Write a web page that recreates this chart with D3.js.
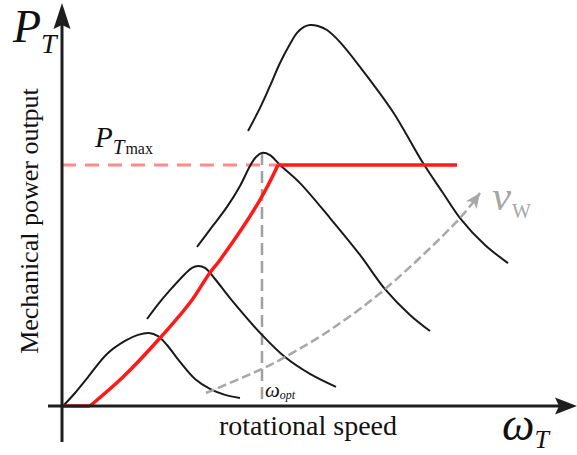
<!DOCTYPE html>
<html>
<head>
<meta charset="utf-8">
<script src="https://cdn.jsdelivr.net/npm/d3@7"></script>
<style>
  html, body { margin: 0; padding: 0; background: #fff; }
  svg { display: block; }
  text { font-family: "Liberation Serif", "Times New Roman", serif; }
</style>
</head>
<body>
<svg id="chart" width="577" height="455"></svg>
<script>
// Turbine power curves P_T(ω_T) for increasing wind speeds (per-unit values).
const curve1W = [0.01, 0.065, 0.13, 0.225, 0.315, 0.38, 0.435, 0.48, 0.525, 0.59, 0.665, 0.74, 0.815, 0.89];
const curve1P = [0.004, 0.054, 0.12, 0.216, 0.27, 0.295, 0.303, 0.29, 0.253, 0.183, 0.112, 0.071, 0.046, 0.033];

const curve2W = [0.425, 0.49, 0.55, 0.615, 0.65, 0.68, 0.715, 0.765, 0.84, 1.0, 1.115, 1.24, 1.37];
const curve2P = [0.361, 0.432, 0.49, 0.548, 0.573, 0.581, 0.573, 0.527, 0.448, 0.295, 0.203, 0.133, 0.079];

const curve3W = [0.675, 0.75, 0.825, 0.89, 0.94, 0.97, 1.0, 1.04, 1.09, 1.19, 1.34, 1.49, 1.615, 1.74, 1.84];
const curve3P = [0.66, 0.743, 0.826, 0.913, 0.996, 1.033, 1.05, 1.041, 1.0, 0.925, 0.78, 0.627, 0.485, 0.378, 0.311];

const curve4W = [0.93, 0.99, 1.04, 1.09, 1.14, 1.175, 1.21, 1.24, 1.28, 1.325, 1.39, 1.49, 1.655, 1.805, 1.905, 1.99, 2.115, 2.23];
const curve4P = [1.141, 1.237, 1.328, 1.423, 1.502, 1.548, 1.573, 1.581, 1.577, 1.56, 1.51, 1.407, 1.22, 1.008, 0.884, 0.78, 0.668, 0.593];

// Optimal operating trajectory (red): idle segment, rising part, rated power.
const idleW = [0.0, 0.14];
const mpptW = [0.14, 0.305, 0.49, 0.65, 0.735, 0.79, 0.99, 1.08];
const mpptP = [0.0, 0.12, 0.282, 0.44, 0.548, 0.606, 0.855, 1.0];
const ratedW = [1.08, 1.975];
const pMax = 1.0;

// Increasing wind speed direction (grey arrow).
const windW = [0.72, 1.0, 1.115, 1.34, 1.615, 1.99, 2.09];
const windP = [0.054, 0.154, 0.203, 0.315, 0.485, 0.78, 0.884];

const wOpt = 1.0;
const wOptPeak = 1.05;

const svg = d3.select("#chart");

const x = d3.scaleLinear().domain([0, 2.575]).range([62, 577]);
const y = d3.scaleLinear().domain([0, 1]).range([406, 165]);

const zip = (ws, ps) => ws.map((w, i) => [w, ps[i]]);
const smooth = d3.line().x(d => x(d[0])).y(d => y(d[1])).curve(d3.curveCatmullRom.alpha(0.5));
const straight = d3.line().x(d => x(d[0])).y(d => y(d[1]));

const defs = svg.append("defs");
defs.append("marker")
  .attr("id", "greyHead")
  .attr("markerUnits", "userSpaceOnUse")
  .attr("viewBox", "-16 -8 18 16")
  .attr("refX", 0).attr("refY", 0)
  .attr("markerWidth", 18).attr("markerHeight", 16)
  .attr("orient", "auto")
  .append("path")
  .attr("d", "M0,0 L-15,-6.5 L-11,0 L-15,6.5 Z")
  .attr("fill", "#a8a8a8");

// Rated power reference line
svg.append("path")
  .attr("d", straight([[0, pMax], [ratedW[0], pMax]]))
  .attr("fill", "none")
  .attr("stroke", "#ff8a8a")
  .attr("stroke-width", 3)
  .attr("stroke-dasharray", "14,9");

// Optimal speed marker
svg.append("path")
  .attr("d", straight([[wOpt, wOptPeak], [wOpt, 0]]))
  .attr("fill", "none")
  .attr("stroke", "#a0a0a0")
  .attr("stroke-width", 2.5)
  .attr("stroke-dasharray", "12,6");

// Power curves
[[curve1W, curve1P], [curve2W, curve2P], [curve3W, curve3P], [curve4W, curve4P]]
  .forEach(([ws, ps]) => {
    svg.append("path")
      .attr("d", smooth(zip(ws, ps)))
      .attr("fill", "none")
      .attr("stroke", "#1a1a1a")
      .attr("stroke-width", 2);
  });

// Wind speed arrow
svg.append("path")
  .attr("d", smooth(zip(windW, windP)))
  .attr("fill", "none")
  .attr("stroke", "#a8a8a8")
  .attr("stroke-width", 2.5)
  .attr("stroke-dasharray", "9,4")
  .attr("marker-end", "url(#greyHead)");

// Operating trajectory
const red = "#ff1a1a";
svg.append("path")
  .attr("d", straight(idleW.map(w => [w, 0])))
  .attr("fill", "none").attr("stroke", red).attr("stroke-width", 3.5);
svg.append("path")
  .attr("d", smooth(zip(mpptW, mpptP)))
  .attr("fill", "none").attr("stroke", red).attr("stroke-width", 3.5);
svg.append("path")
  .attr("d", straight(ratedW.map(w => [w, pMax])))
  .attr("fill", "none").attr("stroke", red).attr("stroke-width", 3.5);

// Axes with arrowheads
const axisColor = "#1e1e1e";
const x0 = x(0), y0 = y(0);
svg.append("line")
  .attr("x1", 48).attr("y1", y0).attr("x2", 566).attr("y2", y0)
  .attr("stroke", axisColor).attr("stroke-width", 3);
svg.append("line")
  .attr("x1", x0).attr("y1", 442).attr("x2", x0).attr("y2", 16)
  .attr("stroke", axisColor).attr("stroke-width", 3);
svg.append("path")
  .attr("d", "M0,0 L-22,-8.5 L-18,0 L-22,8.5 Z")
  .attr("transform", `translate(577,${y0})`)
  .attr("fill", axisColor);
svg.append("path")
  .attr("d", "M0,0 L-26,-8.5 L-22,0 L-26,8.5 Z")
  .attr("transform", `translate(${x0},3) rotate(-90)`)
  .attr("fill", axisColor);

// Labels
const ink = "#111";
const pt = svg.append("text").attr("x", 13).attr("y", 42).attr("fill", ink);
pt.append("tspan").attr("font-style", "italic").attr("font-size", 46).text("P");
pt.append("tspan").attr("font-style", "italic").attr("font-size", 28).attr("dx", 0).attr("dy", 11).text("T");

const ptm = svg.append("text").attr("x", 95).attr("y", 147).attr("fill", ink);
ptm.append("tspan").attr("font-style", "italic").attr("font-size", 29).text("P");
ptm.append("tspan").attr("font-style", "italic").attr("font-size", 21).attr("dx", 0).attr("dy", 7).text("T");
ptm.append("tspan").attr("font-size", 16).attr("dx", 1).text("max");

const vw = svg.append("text").attr("x", 492).attr("y", 210).attr("fill", "#a6a6a6");
vw.append("tspan").attr("font-style", "italic").attr("font-size", 43).text("v");
vw.append("tspan").attr("font-size", 20).attr("dx", 1).attr("dy", 8).text("W");

const wt = svg.append("text").attr("x", 502).attr("y", 440).attr("fill", ink);
wt.append("tspan").attr("font-style", "italic").attr("font-size", 46).text("ω");
wt.append("tspan").attr("font-style", "italic").attr("font-size", 26).attr("dx", 0).attr("dy", 8).text("T");

const wo = svg.append("text").attr("x", 265).attr("y", 397).attr("fill", ink);
wo.append("tspan").attr("font-style", "italic").attr("font-size", 21).text("ω");
wo.append("tspan").attr("font-style", "italic").attr("font-size", 12).attr("dx", 0).attr("dy", 2).text("opt");

svg.append("text")
  .attr("x", 219).attr("y", 435)
  .attr("font-size", 28)
  .attr("fill", ink)
  .text("rotational speed");

svg.append("text")
  .attr("transform", "translate(38,221) rotate(-90)")
  .attr("text-anchor", "middle")
  .attr("font-size", 26)
  .attr("fill", ink)
  .text("Mechanical power output");
</script>
</body>
</html>
